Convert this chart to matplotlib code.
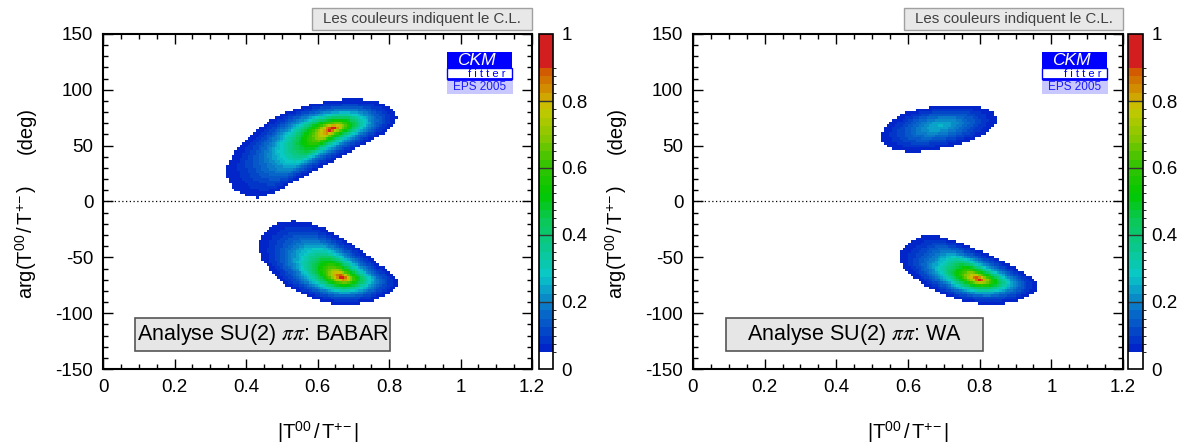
import math
import numpy as np
import matplotlib
matplotlib.use('Agg')
import matplotlib.pyplot as plt
from matplotlib.colors import ListedColormap, BoundaryNorm, LinearSegmentedColormap
from matplotlib.patches import Rectangle
from matplotlib.ticker import MultipleLocator, FuncFormatter

plt.rcParams['font.family'] = ['Liberation Sans', 'DejaVu Sans']
plt.rcParams['mathtext.fontset'] = 'stix'
plt.rcParams['axes.unicode_minus'] = False

# axis ranges
x_lim = (0.0, 1.2)
y_lim = (-150.0, 150.0)

# BABAR: CL maxima (x, y, chi2 above global minimum) and the 5% CL edge of each region
babar_peak_x = [0.643, 0.671]
babar_peak_y = [65.8, -68.5]
babar_peak_chi2 = [0.0, 0.0]
babar_up_edge_x = [0.344, 0.383, 0.476, 0.571, 0.663, 0.766, 0.817, 0.825, 0.803,
                   0.691, 0.571, 0.467, 0.420, 0.364, 0.347]
babar_up_edge_y = [30.0, 52.4, 75.7, 86.4, 91.8, 90.9, 81.9, 73.0, 64.0,
                   44.3, 23.7, 5.8, 2.2, 10.3, 21.9]
babar_dn_edge_x = [0.551, 0.487, 0.445, 0.434, 0.445, 0.462, 0.487, 0.548, 0.624,
                   0.691, 0.775, 0.839, 0.794, 0.710, 0.615]
babar_dn_edge_y = [-16.6, -18.4, -28.2, -40.7, -54.2, -57.8, -70.3, -81.9, -90.9,
                   -92.7, -88.2, -73.0, -61.3, -40.7, -22.8]

# WA (world average)
wa_peak_x = [0.690, 0.798]
wa_peak_y = [68.0, -69.8]
wa_peak_chi2 = [1.3, 0.0]
wa_up_edge_x = [0.513, 0.567, 0.630, 0.700, 0.814, 0.858, 0.814, 0.720, 0.618, 0.546]
wa_up_edge_y = [58.8, 76.7, 83.0, 86.3, 85.7, 73.7, 58.8, 48.5, 43.8, 46.8]
wa_dn_edge_x = [0.572, 0.639, 0.700, 0.773, 0.896, 0.979, 0.927, 0.834, 0.721, 0.618, 0.577]
wa_dn_edge_y = [-45.9, -28.0, -31.5, -40.0, -57.9, -75.8, -87.8, -93.2, -87.8, -69.8, -54.9]

# colour scale (CL)
cl_levels = [0.0, 0.05] + [round(0.075 + 0.025 * i, 3) for i in range(34)] + [1.0]
cl_anchor_pos = [0.05, 0.2, 0.28, 0.35, 0.45, 0.52, 0.62, 0.70, 0.78, 0.82, 0.90]
cl_anchor_col = ['#001ec8', '#0a82c8', '#0ac8c8', '#0ac896', '#0ac850', '#00c800',
                 '#3cc300', '#8cc800', '#c8c800', '#d2a000', '#d25000']
cbar_ticks = [0, 0.2, 0.4, 0.6, 0.8, 1.0]

W, H = 1178, 446
SX = 430 / 1.2   # screen px per unit x
SY = 335 / 300   # screen px per degree
CHI2_EDGE = 3.84  # chi2 of the 5% CL edge (1 dof)
PROFILE = 1.75

anchor = LinearSegmentedColormap.from_list(
    'ckm', [((p - 0.05) / 0.85, c) for p, c in zip(cl_anchor_pos, cl_anchor_col)])
mids = [(cl_levels[i] + cl_levels[i + 1]) / 2 for i in range(1, len(cl_levels) - 2)]
colors = ['white'] + [anchor((m - 0.05) / 0.85) for m in mids] + ['#d21e1e']
cmap = ListedColormap(colors)
norm = BoundaryNorm(cl_levels, cmap.N)

erfc = np.vectorize(math.erfc)


def chaikin(x, y, n_iter=4):
    # round off the corners of the closed outline
    x, y = np.asarray(x, float), np.asarray(y, float)
    for _ in range(n_iter):
        xn, yn = np.roll(x, -1), np.roll(y, -1)
        x = np.column_stack([0.75 * x + 0.25 * xn, 0.25 * x + 0.75 * xn]).ravel()
        y = np.column_stack([0.75 * y + 0.25 * yn, 0.25 * y + 0.75 * yn]).ravel()
    return x, y


def cl_map(xe, ye, peaks_x, peaks_y, peaks_chi2, edges):
    xc = (xe[:-1] + xe[1:]) / 2
    yc = (ye[:-1] + ye[1:]) / 2
    X, Y = np.meshgrid(xc, yc)
    chi2 = np.full(X.shape, np.inf)
    for px, py, c0, (ex, ey) in zip(peaks_x, peaks_y, peaks_chi2, edges):
        sx, sy = chaikin((np.array(ex) - px) * SX, (np.array(ey) - py) * SY)
        th = np.arctan2(sy, sx)
        rr = np.hypot(sx, sy)
        order = np.argsort(th)
        dx = (X - px) * SX
        dy = (Y - py) * SY
        r_edge = np.interp(np.arctan2(dy, dx), th[order], rr[order], period=2 * np.pi)
        dn = np.hypot(dx, dy) / r_edge
        chi2 = np.minimum(chi2, c0 + (CHI2_EDGE - c0) * dn ** PROFILE)
    return erfc(np.sqrt(chi2 / 2))


def px_box(x0, y0, x1, y1):
    return [x0 / W, 1 - y1 / H, (x1 - x0) / W, (y1 - y0) / H]


fig = plt.figure(figsize=(W / 100, H / 100), dpi=100)

panels = [
    dict(ax=(103, 34, 532, 369), cb=(539, 553), top=(312, 8, 532, 30), ylx=26,
         logo=0.802, box=(0.0895, 0.803), title='Analyse SU(2) $\\pi\\pi$: BABAR',
         blobs=(babar_peak_x, babar_peak_y, babar_peak_chi2,
                [(babar_up_edge_x, babar_up_edge_y), (babar_dn_edge_x, babar_dn_edge_y)])),
    dict(ax=(693, 34, 1123, 369), cb=(1128, 1143), top=(904, 8, 1123, 30), ylx=616,
         logo=0.812, box=(0.092, 0.809), title='Analyse SU(2) $\\pi\\pi$: WA',
         blobs=(wa_peak_x, wa_peak_y, wa_peak_chi2,
                [(wa_up_edge_x, wa_up_edge_y), (wa_dn_edge_x, wa_dn_edge_y)])),
]

xe = np.linspace(x_lim[0], x_lim[1], 161)
ye = np.linspace(y_lim[0], y_lim[1], 131)

for p in panels:
    a0, b0, a1, b1 = p['ax']
    ax = fig.add_axes(px_box(a0, b0, a1, b1))
    cl = cl_map(xe, ye, *p['blobs'])
    mesh = ax.pcolormesh(xe, ye, cl, cmap=cmap, norm=norm, shading='flat')
    ax.axhline(0, color='black', lw=0.9, ls=(0, (1, 2)))
    ax.set_xlim(x_lim)
    ax.set_ylim(y_lim)
    ax.xaxis.set_major_locator(MultipleLocator(0.2))
    ax.xaxis.set_minor_locator(MultipleLocator(0.05))
    ax.yaxis.set_major_locator(MultipleLocator(50))
    ax.yaxis.set_minor_locator(MultipleLocator(10))
    ax.xaxis.set_major_formatter(FuncFormatter(lambda v, _: f'{v:g}'))
    ax.tick_params(which='both', direction='in', top=True, right=True, labelsize=13.5, width=1)
    ax.tick_params(which='major', length=7)
    ax.tick_params(which='minor', length=3.5)
    ax.tick_params(axis='x', pad=7)
    ax.tick_params(axis='y', pad=7)
    for s in ax.spines.values():
        s.set_linewidth(1.5)

    # axis titles
    ax.text(0.5, -0.188, r'$\mathregular{|T^{00}\,/\,T^{+\!-}|}$', transform=ax.transAxes,
            ha='center', va='center', fontsize=14.5)
    fig.text(p['ylx'] / W, 1 - 242 / H, r'$\mathregular{arg(T^{00}\,/\,T^{+\!-})}$',
             rotation=90, ha='center', va='center', fontsize=14.5)
    fig.text(p['ylx'] / W, 1 - 130 / H, '(deg)', rotation=90, ha='center', va='center',
             fontsize=14.5)

    # analysis label
    bx0, bx1 = p['box']
    ax.add_patch(Rectangle((bx0, -133.9), bx1 - bx0, 29.6, facecolor='#e6e6e6',
                           edgecolor='#555555', lw=1.2, zorder=5))
    ax.text((bx0 + bx1) / 2, -119, p['title'], ha='center', va='center', fontsize=15.5, zorder=6)

    # CKMfitter logo
    lx = p['logo']
    lw_ = 0.151
    ax.add_patch(Rectangle((lx, 0.899), lw_, 0.047, transform=ax.transAxes,
                           facecolor='#0000ff', edgecolor='none', zorder=5))
    ax.text(lx + lw_ * 0.45, 0.921, 'CKM', transform=ax.transAxes, color='white',
            style='italic', fontsize=12.5, ha='center', va='center', zorder=6)
    ax.add_patch(Rectangle((lx, 0.866), lw_, 0.033, transform=ax.transAxes,
                           facecolor='white', edgecolor='#0000ff', lw=1, zorder=5))
    ax.plot([lx, lx + lw_], [0.866, 0.866], transform=ax.transAxes, color='#0000ff',
            lw=2, zorder=6, solid_capstyle='butt')
    ax.text(lx + lw_ * 0.62, 0.881, 'f i t t e r', transform=ax.transAxes, color='#0000ff',
            fontsize=8, ha='center', va='center', zorder=6)
    ax.add_patch(Rectangle((lx, 0.821), lw_ + 0.003, 0.039, transform=ax.transAxes,
                           facecolor='#c8c8ff', edgecolor='none', zorder=5))
    ax.text(lx + lw_ * 0.5, 0.8405, 'EPS 2005', transform=ax.transAxes, color='#1a1aff',
            fontsize=8.5, ha='center', va='center', zorder=6)

    # note box above
    t0, t1, t2, t3 = p['top']
    fig.add_artist(Rectangle((t0 / W, 1 - t3 / H), (t2 - t0) / W, (t3 - t1) / H,
                             transform=fig.transFigure, facecolor='#e8e8e8',
                             edgecolor='#a0a0a0', lw=1))
    fig.text((t0 + t2) / 2 / W, 1 - (t1 + t3) / 2 / H, 'Les couleurs indiquent le C.L.',
             ha='center', va='center', fontsize=10.8, color='#404040')

    # colour bar
    c0, c1 = p['cb']
    cax = fig.add_axes(px_box(c0, b0, c1, b1))
    cb = fig.colorbar(mesh, cax=cax, spacing='proportional', ticks=cbar_ticks)
    cb.ax.set_yticklabels([f'{t:g}' for t in cbar_ticks])
    cb.ax.tick_params(length=0, labelsize=13.5, pad=6)
    cb.outline.set_linewidth(1.2)
    for t in cbar_ticks[1:-1]:
        cax.axhline(t, color='#333333', lw=1)

fig.savefig('out.png', dpi=100)
